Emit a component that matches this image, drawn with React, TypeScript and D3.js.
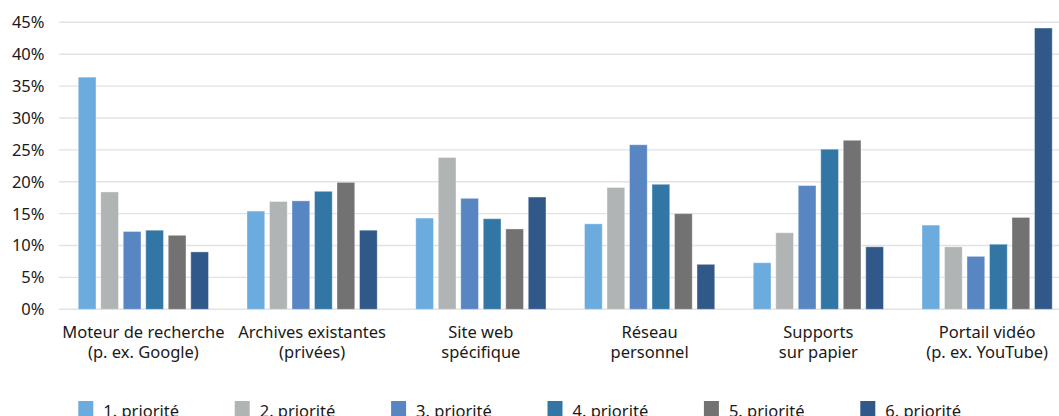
import React from "react";
import * as d3 from "d3";

const categories: string[][] = [
  ["Moteur de recherche", "(p. ex. Google)"],
  ["Archives existantes", "(privées)"],
  ["Site web", "spécifique"],
  ["Réseau", "personnel"],
  ["Supports", "sur papier"],
  ["Portail vidéo", "(p. ex. YouTube)"],
];
const series = ["1. priorité", "2. priorité", "3. priorité", "4. priorité", "5. priorité", "6. priorité"];
const colors = ["#6cabdd", "#b1b4b4", "#5886c2", "#3276a6", "#717271", "#30598a"];
// values[category][series]
const prio1 = [36.4, 15.4, 14.3, 13.4, 7.3, 13.2];
const prio2 = [18.4, 16.9, 23.8, 19.1, 12.0, 9.8];
const prio3 = [12.2, 17.0, 17.4, 25.8, 19.4, 8.3];
const prio4 = [12.4, 18.5, 14.2, 19.6, 25.1, 10.2];
const prio5 = [11.6, 19.9, 12.6, 15.0, 26.5, 14.4];
const prio6 = [9.0, 12.4, 17.6, 7.05, 9.8, 44.1];
const seriesValues = [prio1, prio2, prio3, prio4, prio5, prio6];
const yTicks = [0, 5, 10, 15, 20, 25, 30, 35, 40, 45];

const W = 1059;
const H = 416;
const FONT = "'Noto Sans', sans-serif";

export default function App() {
  const catKeys = categories.map((c) => c.join(" "));
  const x0 = d3
    .scaleBand<string>()
    .domain(catKeys)
    .range([59, 59 + 6 * 168.75])
    .paddingInner(0.2)
    .paddingOuter(0.1);
  const x1 = d3
    .scaleBand<string>()
    .domain(series)
    .range([0, x0.bandwidth()])
    .paddingInner(0.213)
    .paddingOuter(0.1065);
  const y = d3.scaleLinear().domain([0, 45]).range([309.3, 22.3]);

  return (
    <svg
      width={W}
      height={H}
      style={{ position: "absolute", left: 0, top: 0, background: "#fff" }}
      fontFamily={FONT}
    >
      {yTicks.map((t) => (
        <g key={t}>
          <line x1={59} x2={W} y1={y(t)} y2={y(t)} stroke="#e2e2e2" strokeWidth={1.4} />
          <text x={44.5} y={y(t)} dy="0.36em" textAnchor="end" fontSize={16.5} fill="#1a1a1a">
            {t}%
          </text>
        </g>
      ))}
      {categories.map((c, ci) => (
        <g key={ci} transform={`translate(${x0(catKeys[ci])},0)`}>
          {series.map((s, si) => {
            const v = seriesValues[si][ci];
            return (
              <rect
                key={s}
                x={x1(s)}
                y={y(v)}
                width={x1.bandwidth()}
                height={y(0) - y(v)}
                fill={colors[si]}
                stroke="#ffffff"
                strokeOpacity={0.35}
                strokeWidth={1}
              />
            );
          })}
          {c.map((line, li) => (
            <text
              key={li}
              x={x0.bandwidth() / 2}
              y={338.3 + li * 20}
              textAnchor="middle"
              fontSize={16.5}
              fill="#1a1a1a"
            >
              {line}
            </text>
          ))}
        </g>
      ))}
      {series.map((s, si) => (
        <g key={s} transform={`translate(${78.3 + si * 156.4},0)`}>
          <rect x={0} y={401} width={15} height={15} fill={colors[si]} />
          <text x={25} y={417} fontSize={16.5} fill="#1a1a1a">
            {s}
          </text>
        </g>
      ))}
    </svg>
  );
}
